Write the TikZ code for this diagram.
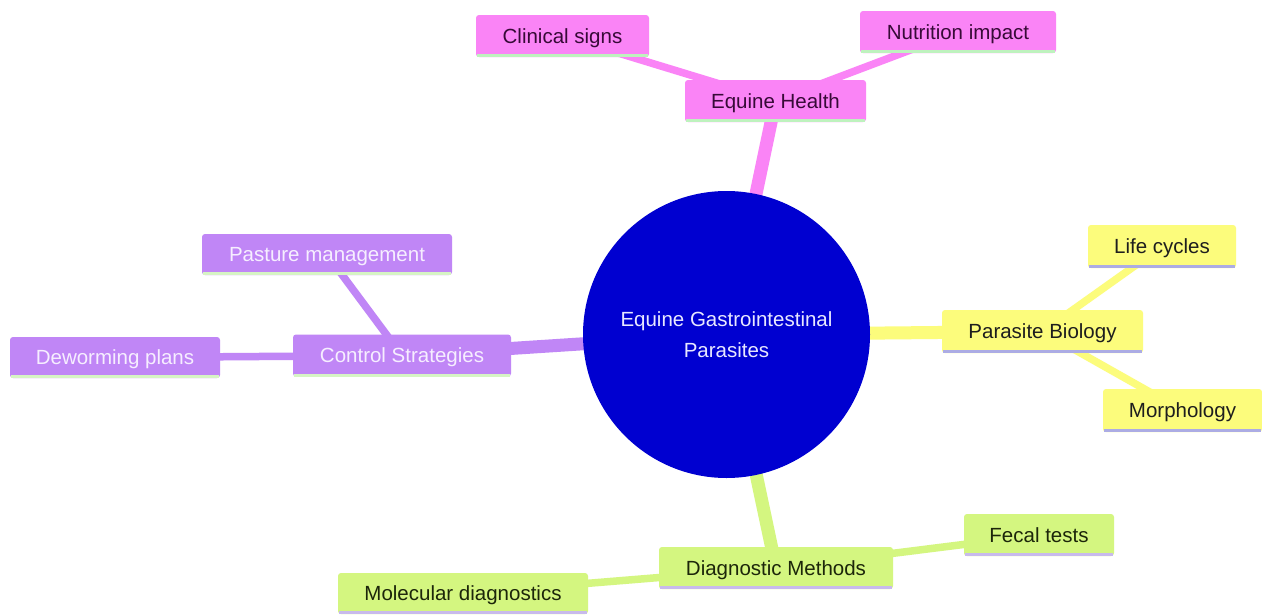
\documentclass[tikz,border=0pt]{standalone}
\usepackage{fontspec}
\setmainfont{Liberation Sans}
\usetikzlibrary{backgrounds}
\definecolor{pinkF}{RGB}{250,132,246}
\definecolor{pinkT}{RGB}{55,10,55}
\definecolor{pinkU}{RGB}{190,242,190}
\definecolor{purF}{RGB}{192,134,246}
\definecolor{purT}{RGB}{246,238,255}
\definecolor{purU}{RGB}{214,244,196}
\definecolor{yelF}{RGB}{252,252,124}
\definecolor{yelT}{RGB}{30,30,30}
\definecolor{yelU}{RGB}{172,172,228}
\definecolor{grnF}{RGB}{212,246,128}
\definecolor{grnT}{RGB}{28,38,10}
\definecolor{grnU}{RGB}{200,186,236}
\definecolor{rootF}{RGB}{0,0,208}
\definecolor{rootT}{RGB}{232,232,255}
\newcommand{\boxbase}[2]{\draw[#2, line width=3pt] ([xshift=1.5pt,yshift=1.5pt]#1.south west) -- ([xshift=-1.5pt,yshift=1.5pt]#1.south east);}
\begin{document}
\begin{tikzpicture}[x=1pt,y=-1pt,
  box/.style={rectangle, rounded corners=3pt, minimum height=42pt, inner sep=0pt,
    text height=18pt, text depth=3.5pt,
    font=\fontsize{20.5}{25}\selectfont},
  pinkbox/.style={box, fill=pinkF, text=pinkT},
  purbox/.style={box, fill=purF, text=purT},
  yelbox/.style={box, fill=yelF, text=yelT},
  grnbox/.style={box, fill=grnF, text=grnT},
  rootnode/.style={circle, fill=rootF, text=rootT, minimum size=287pt, inner sep=0pt,
    align=center, font=\fontsize{20.5}{31}\selectfont},
  mainedge/.style={line width=13pt},
  subedge/.style={line width=7.5pt}
]
\useasboundingbox (0,0) rectangle (1262,616);

\node[rootnode] (root) at (726.5,334.5) {Equine Gastrointestinal\\Parasites};

\node[pinkbox, minimum width=181pt] (eh) at (775.5,101) {Equine Health};
\node[pinkbox, minimum width=173pt] (cs) at (562.5,36) {Clinical signs};
\node[pinkbox, minimum width=196pt] (ni) at (958,32) {Nutrition impact};

\node[purbox, minimum width=218pt] (ctl) at (402,355.5) {Control Strategies};
\node[purbox, minimum width=250pt, minimum height=41pt] (pm) at (327,254.5) {Pasture management};
\node[purbox, minimum width=210pt, minimum height=41pt] (dp) at (115,357.5) {Deworming plans};

\node[yelbox, minimum width=201pt, minimum height=43pt] (pb) at (1042.5,331.5) {Parasite Biology};
\node[yelbox, minimum width=148pt, minimum height=43pt] (lc) at (1162,246.5) {Life cycles};
\node[yelbox, minimum width=159pt, minimum height=43pt] (mo) at (1182.5,410.5) {Morphology};

\node[grnbox, minimum width=234pt] (dm) at (776,568) {Diagnostic Methods};
\node[grnbox, minimum width=150pt] (ft) at (1039,535) {Fecal tests};
\node[grnbox, minimum width=250pt, minimum height=41pt] (md) at (463,593.5) {Molecular diagnostics};

\boxbase{eh}{pinkU}
\boxbase{cs}{pinkU}
\boxbase{ni}{pinkU}
\boxbase{ctl}{purU}
\boxbase{pm}{purU}
\boxbase{dp}{purU}
\boxbase{pb}{yelU}
\boxbase{lc}{yelU}
\boxbase{mo}{yelU}
\boxbase{dm}{grnU}
\boxbase{ft}{grnU}
\boxbase{md}{grnU}

\begin{scope}[on background layer]
  \fill[white] (0,0) rectangle (1262,616);
  \draw[mainedge, pinkF] (root.center) -- (eh.center);
  \draw[subedge, pinkF] (eh.center) -- (cs.center);
  \draw[subedge, pinkF] (eh.center) -- (ni.center);
  \draw[mainedge, purF] (root.center) -- (ctl.center);
  \draw[subedge, purF] (ctl.center) -- (pm.center);
  \draw[subedge, purF] (ctl.center) -- (dp.center);
  \draw[mainedge, yelF] (root.center) -- (pb.center);
  \draw[subedge, yelF] (pb.center) -- (lc.center);
  \draw[subedge, yelF] (pb.center) -- (mo.center);
  \draw[mainedge, grnF] (root.center) -- (dm.center);
  \draw[subedge, grnF] (dm.center) -- (ft.center);
  \draw[subedge, grnF] (dm.center) -- (md.center);
\end{scope}
\end{tikzpicture}
\end{document}
